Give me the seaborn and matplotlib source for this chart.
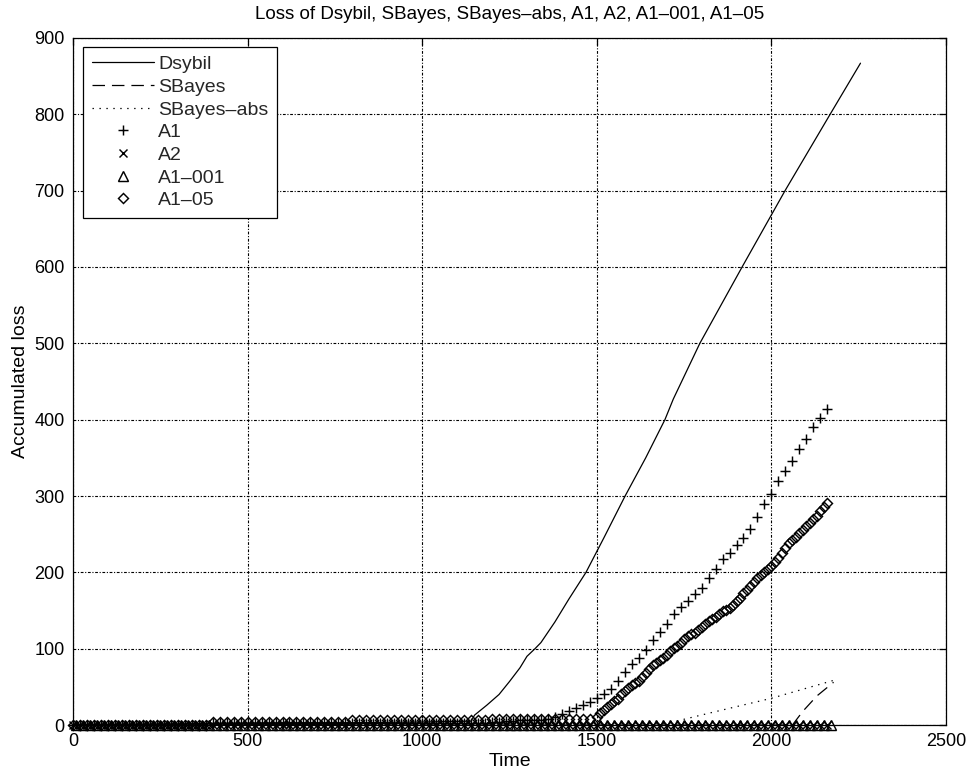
import numpy as np
import matplotlib
matplotlib.use("Agg")
import matplotlib.pyplot as plt
import seaborn as sns

sns.set_theme(style="white")
plt.rcParams["font.family"] = ["Liberation Sans", "DejaVu Sans"]
plt.rcParams["lines.scale_dashes"] = False

title = "Loss of Dsybil, SBayes, SBayes\u2013abs, A1, A2, A1\u2013001, A1\u201305"
x_label = "Time"
y_label = "Accumulated loss"
x_ticks = [0, 500, 1000, 1500, 2000, 2500]
y_ticks = [0, 100, 200, 300, 400, 500, 600, 700, 800, 900]

# Dsybil: accumulated loss (solid line)
dsybil_t = [0, 200, 400, 600, 800, 1000, 1140, 1150, 1185, 1220, 1250, 1280,
            1300, 1323, 1340, 1380, 1420, 1469, 1520, 1581, 1640, 1695, 1719,
            1795, 1916, 2039, 2168, 2255]
dsybil_loss = [0, 1, 2, 3, 3, 4, 5, 13, 26, 40, 57, 75,
               90, 100, 108, 135, 165, 200, 245, 300, 350, 400, 427,
               500, 600, 700, 800, 867]

# SBayes (dashed line)
sbayes_t = [0, 2060, 2090, 2130, 2178]
sbayes_loss = [0, 0, 18, 38, 56]

# SBayes-abs (dotted line)
sbayes_abs_t = [0, 1700, 1835, 2000, 2182]
sbayes_abs_loss = [0, 2, 17, 35, 59]

# A1 (+ markers), sampled every 20 time steps
a1_t = np.arange(0, 2161, 20)
a1_loss = [
    0, 0, 0, 0, 0, 0, 0, 0, 0, 0, 0, 0, 0, 0, 0, 0, 0, 0, 0, 0,
    2, 2, 2, 2, 2, 2, 2, 2, 2, 2, 2, 2, 2, 2, 2, 2, 2, 2, 2, 2,
    3, 3, 3, 3, 3, 3, 3, 3, 3, 3, 3, 3, 3, 3, 3, 3, 3, 3, 3, 3,
    4, 4, 5, 5, 6, 6, 7, 7, 8,
    10, 14, 18, 22, 26, 30, 35, 40, 47, 58,
    70, 80, 88, 98, 112, 122, 132, 146, 154, 162,
    172, 180, 193, 204, 217, 225, 236, 245, 257, 273,
    290, 303, 320, 333, 346, 361, 375, 391, 402, 414,
]

# A2 (x markers), sampled every 20 time steps
a2_t = np.arange(0, 2161, 20)
a2_loss = [
    0, 0, 0, 0, 0, 0, 0, 0, 0, 0, 0, 0, 0, 0, 0, 0, 0, 0, 0, 0,
    0, 0, 0, 0, 0, 0, 0, 0, 0, 0, 0, 0, 0, 0, 0, 0, 0, 0, 0, 0,
    0, 0, 0, 0, 0, 0, 0, 0, 0, 0, 0, 0, 0, 0, 0, 0, 0, 0, 0, 0,
    0, 0, 0, 0, 0, 0, 0, 0, 0, 0, 0, 0, 0, 0, 0, 0, 0, 0, 0, 0,
    0, 0, 0, 0, 0, 0, 0, 0, 0, 0, 0, 0, 0, 0, 0, 0, 0, 0, 0, 0,
    0, 0, 0, 0, 0, 0, 0, 0, 0,
]

# A1-001 (triangle markers), sampled every 20 time steps
a1_001_t = np.arange(10, 2171, 20)
a1_001_loss = [
    0, 0, 0, 0, 0, 0, 0, 0, 0, 0, 0, 0, 0, 0, 0, 0, 0, 0, 0, 0,
    0, 0, 0, 0, 0, 0, 0, 0, 0, 0, 0, 0, 0, 0, 0, 0, 0, 0, 0, 0,
    0, 0, 0, 0, 0, 0, 0, 0, 0, 0, 0, 0, 0, 0, 0, 0, 0, 0, 0, 0,
    0, 0, 0, 0, 0, 0, 0, 0, 0, 0, 0, 0, 0, 0, 0, 0, 0, 0, 0, 0,
    0, 0, 0, 0, 0, 0, 0, 0, 0, 0, 0, 0, 0, 0, 0, 0, 0, 0, 0, 0,
    0, 0, 0, 0, 0, 0, 0, 0, 0,
]

# A1-05 (diamond markers): every 20 steps up to 1500, then every 10
a1_05_t = np.r_[np.arange(0, 1501, 20), np.arange(1510, 2161, 10)]
a1_05_loss = [
    0, 0, 0, 0, 0, 0, 0, 0, 0, 0, 0, 0, 0, 0, 0, 0, 0, 0, 0, 0,
    4, 4, 4, 4, 4, 4, 4, 4, 4, 4, 4, 4, 4, 4, 4, 4, 4, 4, 4, 4,
    6, 6, 6, 6, 6, 6, 6, 6, 6, 6, 6, 6, 6, 6, 6, 6, 6, 6, 6, 6,
    8, 8, 8, 8, 8, 8, 8, 8, 8, 8, 8, 8, 8, 8, 8, 10,
    16, 20, 24, 28, 31, 34, 40, 45, 49, 52,
    55, 58, 63, 68, 73, 78, 81, 85, 88, 92,
    97, 101, 104, 108, 113, 117, 119, 121, 125, 128,
    132, 136, 139, 142, 146, 149, 151, 153, 157, 163,
    167, 173, 177, 182, 187, 192, 197, 201, 205, 208,
    214, 219, 225, 232, 238, 243, 246, 251, 256, 261,
    265, 270, 274, 280, 286, 291,
]

FS_TICK = 13
FS_LABEL = 14

fig = plt.figure(figsize=(9.73, 7.80), dpi=100)
ax = fig.add_axes([0.0750, 0.0705, 0.8973, 0.8808])

common = dict(ax=ax, color="black", estimator=None, sort=False, errorbar=None)

sns.lineplot(x=dsybil_t, y=dsybil_loss, linewidth=0.9, linestyle="-",
             label="Dsybil", **common)
sns.lineplot(x=sbayes_t, y=sbayes_loss, linewidth=0.9, linestyle=(0, (9, 5)),
             label="SBayes", **common)
sns.lineplot(x=sbayes_abs_t, y=sbayes_abs_loss, linewidth=0.9,
             linestyle=(0, (1.0, 4.0)), label="SBayes\u2013abs", **common)

mk = dict(linestyle="none", markerfacecolor="none", markeredgecolor="black",
          markeredgewidth=1.05, clip_on=False)
sns.lineplot(x=a1_t, y=a1_loss, marker="+", markersize=7, label="A1", **mk, **common)
sns.lineplot(x=a2_t, y=a2_loss, marker="x", markersize=6, label="A2", **mk, **common)
sns.lineplot(x=a1_001_t, y=a1_001_loss, marker="^", markersize=6.5, label="A1\u2013001",
             **mk, **common)
sns.lineplot(x=a1_05_t, y=a1_05_loss, marker="D", markersize=5, label="A1\u201305",
             **mk, **common)

ax.set_xlim(0, 2500)
ax.set_ylim(0, 900)
ax.set_xticks(x_ticks)
ax.set_yticks(y_ticks)
ax.set_xticklabels([str(v) for v in x_ticks])
ax.set_yticklabels([str(v) for v in y_ticks])

ax.grid(True, color="black", linewidth=0.8, linestyle=(0, (2.0, 1.2, 0.8, 1.2)))
ax.set_axisbelow(False)
for side in ["left", "right", "top", "bottom"]:
    ax.spines[side].set_visible(True)
    ax.spines[side].set_color("black")
    ax.spines[side].set_linewidth(0.9)

ax.tick_params(direction="in", length=5, width=0.9, colors="black",
               top=True, right=True, labelsize=FS_TICK, pad=6)

ax.set_title(title, fontsize=13.5, pad=14, color="black")
ax.set_xlabel(x_label, fontsize=FS_LABEL, labelpad=2, color="black")
ax.set_ylabel(y_label, fontsize=FS_LABEL, labelpad=4, color="black")

leg = ax.legend(loc="upper left", bbox_to_anchor=(0.0115, 0.987), borderaxespad=0,
                fontsize=FS_LABEL, handlelength=3.2, handletextpad=0.2,
                labelspacing=0.26, borderpad=0.45, fancybox=False, framealpha=1,
                edgecolor="black", numpoints=1)
leg.get_frame().set_linewidth(0.9)

fig.savefig("out.png", dpi=100, facecolor="white")
